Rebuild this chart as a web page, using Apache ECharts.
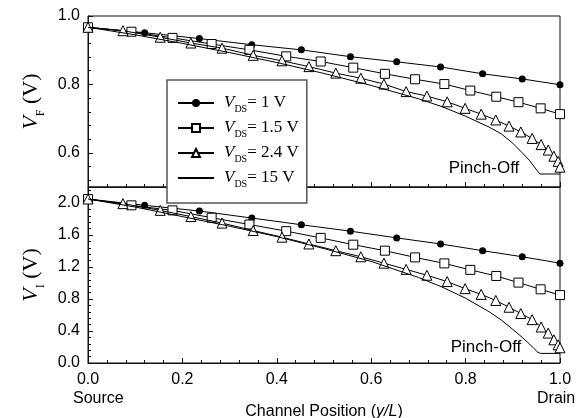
<!DOCTYPE html>
<html>
<head>
<meta charset="utf-8">
<script src="https://cdn.jsdelivr.net/npm/echarts@6.0.0/dist/echarts.min.js"></script>
<style>
  html, body { margin: 0; padding: 0; background: #fff; }
  #chart { width: 583px; height: 418px; }
</style>
</head>
<body>
<div id="chart"></div>
<script>
// channel position y/L of each marker (same in both panels)
const xCircle = [0, 0.120, 0.236, 0.347, 0.452, 0.556, 0.654, 0.747, 0.836, 0.920, 1.0];
const xSquare = [0, 0.092, 0.179, 0.262, 0.342, 0.420, 0.493, 0.562, 0.629, 0.693, 0.755, 0.810, 0.865, 0.912, 0.959, 1.0];
const xTri = [0, 0.074, 0.153, 0.218, 0.284, 0.350, 0.411, 0.468, 0.525, 0.578, 0.627, 0.674, 0.718, 0.761, 0.799,
  0.833, 0.864, 0.892, 0.917, 0.941, 0.960, 0.975, 0.987, 0.996, 1.0];
const xSat = [0, 0.1, 0.2, 0.3, 0.4, 0.5, 0.6, 0.7, 0.75, 0.8, 0.85, 0.875, 0.9, 0.92, 0.935, 0.945, 0.952, 0.958, 1.0];

// V_F (top panel)
const fCircle = [0.967, 0.951, 0.934, 0.916, 0.901, 0.881, 0.866, 0.851, 0.831, 0.816, 0.799];
const fSquare = [0.967, 0.954, 0.936, 0.918, 0.901, 0.882, 0.867, 0.849, 0.831, 0.815, 0.801, 0.782, 0.764, 0.748, 0.730, 0.713];
const fTri = [0.967, 0.957, 0.938, 0.921, 0.906, 0.885, 0.869, 0.852, 0.833, 0.818, 0.801, 0.779, 0.766, 0.749, 0.730,
  0.713, 0.696, 0.678, 0.661, 0.642, 0.624, 0.608, 0.590, 0.575, 0.558];
const fSat = [0.967, 0.945, 0.920, 0.893, 0.864, 0.832, 0.797, 0.758, 0.735, 0.707, 0.675, 0.656, 0.628, 0.600, 0.578, 0.560, 0.547, 0.538, 0.538];

// V_I (bottom panel)
const iCircle = [2.05, 1.971, 1.900, 1.812, 1.728, 1.648, 1.564, 1.488, 1.404, 1.328, 1.248];
const iSquare = [2.05, 1.971, 1.908, 1.816, 1.731, 1.648, 1.564, 1.479, 1.404, 1.320, 1.245, 1.164, 1.088, 1.005, 0.921, 0.849];
const iTri = [2.05, 1.992, 1.908, 1.830, 1.749, 1.656, 1.573, 1.488, 1.404, 1.328, 1.248, 1.170, 1.097, 1.018, 0.929,
  0.858, 0.782, 0.697, 0.618, 0.542, 0.450, 0.374, 0.290, 0.227, 0.190];
const iSat = [2.05, 1.95, 1.83, 1.71, 1.58, 1.43, 1.27, 1.07, 0.95, 0.81, 0.64, 0.54, 0.42, 0.32, 0.24, 0.18, 0.14, 0.12, 0.12];

const seriesNames = ['1 V', '1.5 V', '2.4 V', '15 V'];
const xTicks = [0, 0.2, 0.4, 0.6, 0.8, 1.0];
const yTopTicks = [0.6, 0.8, 1.0];
const yBotTicks = [0, 0.4, 0.8, 1.2, 1.6, 2.0];

const SANS = '"Liberation Sans", Arial, sans-serif';
const SERIF = '"Liberation Serif", "Times New Roman", serif';
const INK = '#111';

function zip(xs, ys) { return xs.map((x, i) => [x, ys[i]]); }
function minorList(min, max, step, majors) {
  const out = [];
  for (let k = 0; min + k * step <= max + 1e-9; k++) {
    const v = +(min + k * step).toFixed(3);
    if (!majors.some(m => Math.abs(m - v) < 1e-6)) out.push(v);
  }
  return out;
}

const chart = echarts.init(document.getElementById('chart'));

const baseX = (gi, showLabel) => ({
  type: 'value', gridIndex: gi, min: 0, max: 1, interval: 0.2,
  axisLine: { show: true, lineStyle: { color: INK, width: 1 } },
  axisTick: { show: true, inside: true, length: 5, lineStyle: { color: INK } },
  minorTick: { show: true, splitNumber: 5, length: 3, lineStyle: { color: INK } },
  splitLine: { show: false },
  axisLabel: {
    show: showLabel, color: '#000', fontFamily: SANS, fontSize: 16, margin: 9,
    customValues: xTicks, formatter: v => v.toFixed(1)
  }
});

const mainY = (gi, min, max, ticks, name) => ({
  type: 'value', gridIndex: gi, min: min, max: max, position: 'left',
  axisLine: { show: true, lineStyle: { color: INK, width: 1 } },
  axisTick: { show: true, inside: true, length: 5, customValues: ticks, lineStyle: { color: INK } },
  axisLabel: { color: '#000', fontFamily: SANS, fontSize: 16, margin: 8, customValues: ticks, formatter: v => v.toFixed(1) },
  splitLine: { show: false },
  name: name, nameLocation: 'middle', nameRotate: 90, nameGap: 46,
  nameTextStyle: {
    rich: {
      v: { fontFamily: SERIF, fontStyle: 'italic', fontSize: 22, color: '#000', lineHeight: 22, verticalAlign: 'top' },
      s: { fontFamily: SERIF, fontSize: 12, color: '#000', lineHeight: 12, padding: [15, 0, 0, 0], verticalAlign: 'top' },
      n: { fontFamily: SERIF, fontSize: 22, color: '#000', lineHeight: 22, verticalAlign: 'top' }
    }
  }
});

const minorY = (gi, min, max, ticks) => ({
  type: 'value', gridIndex: gi, min: min, max: max, position: 'left',
  axisLine: { show: false },
  axisLabel: { show: false },
  axisTick: { show: true, inside: true, length: 3, customValues: ticks, lineStyle: { color: INK } },
  splitLine: { show: false }
});

const styles = [
  { symbol: 'circle', symbolSize: 7, itemStyle: { color: '#000' } },
  { symbol: 'rect', symbolSize: 9, itemStyle: { color: '#fff', borderColor: '#000', borderWidth: 1 } },
  { symbol: 'triangle', symbolSize: 10, itemStyle: { color: '#fff', borderColor: '#000', borderWidth: 1 } },
  // plain line: transparent item colour keeps the legend icon a bare line
  { symbol: 'none', symbolSize: 0, itemStyle: { color: 'transparent', borderWidth: 0 } }
];

function makeSeries(gi, xs, ys) {
  return xs.map((xv, k) => Object.assign({
    name: seriesNames[k], type: 'line', xAxisIndex: gi, yAxisIndex: gi * 2,
    data: zip(xv, ys[k]), showAllSymbol: true,
    lineStyle: { color: '#000', width: 1 }, z: 3 + k
  }, styles[k]));
}

const xs = [xCircle, xSquare, xTri, xSat];
const topSeries = makeSeries(0, xs, [fCircle, fSquare, fTri, fSat]);
const botSeries = makeSeries(1, xs, [iCircle, iSquare, iTri, iSat]);

const note = (txt, x, y) => ({
  type: 'text', x: x, y: y,
  style: { text: txt, font: '17px ' + SANS, fill: '#000', align: 'center', verticalAlign: 'middle' }
});

chart.setOption({
  animation: false,
  backgroundColor: '#fff',
  grid: [
    { left: 88, right: 23, top: 16, height: 171, show: true, borderColor: INK, borderWidth: 1, outerBoundsMode: 'none' },
    { left: 88, right: 23, top: 187, height: 176, show: true, borderColor: INK, borderWidth: 1, outerBoundsMode: 'none' }
  ],
  xAxis: [
    baseX(0, false),
    Object.assign(baseX(1, true), {
      name: '{n|Channel Position (}{i|y/L}{n|)}', nameLocation: 'middle', nameGap: 41,
      nameTextStyle: {
        rich: {
          n: { fontFamily: SANS, fontSize: 16, color: '#000' },
          i: { fontFamily: SANS, fontStyle: 'italic', fontSize: 16, color: '#000' }
        }
      }
    })
  ],
  yAxis: [
    mainY(0, 0.5, 1.0, yTopTicks, '{v|V}{s|F}{n| (V)}'),
    minorY(0, 0.5, 1.0, minorList(0.52, 0.96, 0.04, yTopTicks)),
    mainY(1, 0, 2.2, yBotTicks, '{v|V}{s|I}{n| (V)}'),
    minorY(1, 0, 2.2, minorList(0.08, 2.16, 0.08, yBotTicks))
  ],
  legend: {
    orient: 'vertical', left: 167, top: 80,
    padding: [14, 8, 14, 10], itemGap: 5, itemWidth: 36, itemHeight: 10,
    backgroundColor: '#fff', borderColor: '#555', borderWidth: 1.5,
    data: seriesNames,
    formatter: name => '{v|V}{s|DS}{t|= ' + name + '}',
    textStyle: {
      padding: [0, 0, 0, 5],
      rich: {
        v: { fontFamily: SERIF, fontStyle: 'italic', fontSize: 17, color: '#000', lineHeight: 18, verticalAlign: 'top' },
        s: { fontFamily: SERIF, fontSize: 10, color: '#000', lineHeight: 10, padding: [10, 0, 0, 0], verticalAlign: 'top' },
        t: { fontFamily: SERIF, fontSize: 17, color: '#000', lineHeight: 18, verticalAlign: 'top' }
      }
    }
  },
  graphic: [
    { type: 'text', left: 73, top: 391, style: { text: 'Source', font: '16px ' + SANS, fill: '#000' } },
    { type: 'text', left: 537, top: 391, style: { text: 'Drain', font: '16px ' + SANS, fill: '#000' } },
    note('Pinch-Off', 484, 168),
    note('Pinch-Off', 486, 347)
  ],
  series: topSeries.concat(botSeries)
});
</script>
</body>
</html>
